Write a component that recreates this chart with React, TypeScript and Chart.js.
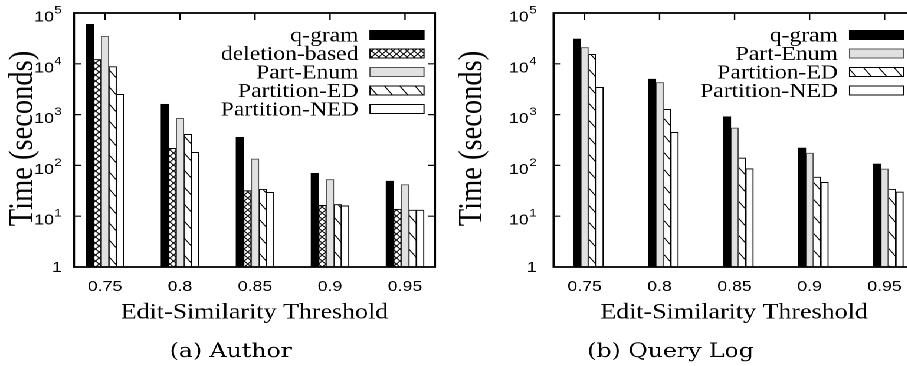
import React, { useEffect, useRef } from "react";
import { Chart, registerables } from "chart.js";

Chart.register(...registerables);

// horizontal stretch of the reference picture
const S = 1.18;

const thresholds = [0.75, 0.8, 0.85, 0.9, 0.95];
const thresholdLabels = ["0.75", "0.8", "0.85", "0.9", "0.95"];
const decadeValues = [1, 10, 100, 1000, 10000, 100000];
const decadeExponents = ["", "1", "2", "3", "4", "5"];

// (a) Author
const authorNames = ["q-gram", "deletion-based", "Part-Enum", "Partition-ED", "Partition-NED"];
const authorQgram = [60000, 1600, 357, 70, 49];
const authorDeletion = [12200, 217, 32, 16.4, 13.7];
const authorPartEnum = [35000, 845, 134, 53, 42];
const authorPartitionED = [8800, 410, 34, 17, 13.2];
const authorPartitionNED = [2500, 181, 29.5, 16, 13.2];

// (b) Query Log
const queryNames = ["q-gram", "Part-Enum", "Partition-ED", "Partition-NED"];
const queryQgram = [30800, 5000, 910, 220, 107];
const queryPartEnum = [21000, 4300, 545, 175, 85];
const queryPartitionED = [15400, 1270, 140, 59, 34];
const queryPartitionNED = [3440, 448, 86, 46.5, 30];

const xTitle = "Edit-Similarity Threshold";
const yTitle = "Time (seconds)";

function makePattern(kind: "cross" | "diag"): CanvasPattern | string {
  const R = 4;
  const w = kind === "cross" ? 6 : 13;
  const h = kind === "cross" ? 6 : 17;
  const c = document.createElement("canvas");
  c.width = w * R;
  c.height = h * R;
  const g = c.getContext("2d");
  if (!g) return "#fff";
  g.scale(R, R);
  g.fillStyle = "#fff";
  g.fillRect(0, 0, w, h);
  g.strokeStyle = "#000";
  g.lineWidth = 0.9;
  g.beginPath();
  for (const dx of [-w, 0, w]) {
    g.moveTo(dx, 0);
    g.lineTo(dx + w, h);
    if (kind === "cross") {
      g.moveTo(dx + w, 0);
      g.lineTo(dx, h);
    }
  }
  g.stroke();
  const p = g.createPattern(c, "repeat");
  if (!p) return "#fff";
  p.setTransform(new DOMMatrix().scale(1 / R, 1 / R));
  return p;
}

function fillFor(name: string): CanvasPattern | string {
  if (name === "q-gram") return "#000";
  if (name === "deletion-based") return makePattern("cross");
  if (name === "Part-Enum") return "#e1e1e1";
  if (name === "Partition-ED") return makePattern("diag");
  return "#fff";
}
function borderFor(name: string): string {
  if (name === "Part-Enum") return "#555";
  return "#000";
}

interface PanelSpec {
  names: string[];
  series: number[][];
  caption: string;
  width: number;
  plotLeft: number;
  rightPad: number;
  barThickness: number;
  leadingEmptySlot: boolean;
  yLabelRight: number;
  yTitleX: number;
  legendTextRight: number;
  legendBoxLeft: number;
  legendBoxWidth: number;
  captionX: number;
}

const legendRows = [35, 53.5, 72, 90.5, 109];

function decorPlugin(spec: PanelSpec) {
  return {
    id: "panelDecor",
    beforeDatasetsDraw(chart: any) {
      const { ctx, chartArea: a, scales } = chart;
      ctx.save();
      ctx.strokeStyle = "#000";
      ctx.lineWidth = 1.2;
      ctx.beginPath();
      for (const v of decadeValues.slice(1, -1)) {
        const y = scales.y.getPixelForValue(v);
        ctx.moveTo(a.left, y);
        ctx.lineTo(a.left + 6, y);
        ctx.moveTo(a.right, y);
        ctx.lineTo(a.right - 6, y);
      }
      for (const v of thresholds) {
        const x = scales.x.getPixelForValue(v);
        ctx.moveTo(x, a.top);
        ctx.lineTo(x, a.top + 7);
        ctx.moveTo(x, a.bottom);
        ctx.lineTo(x, a.bottom - 7);
      }
      ctx.stroke();
      ctx.restore();
    },
    afterDatasetsDraw(chart: any) {
      const { ctx, chartArea: a } = chart;
      ctx.save();
      ctx.strokeStyle = "#000";
      ctx.lineWidth = 1.8;
      ctx.strokeRect(a.left, a.top, a.right - a.left, a.bottom - a.top);
      ctx.restore();
    },
    afterDraw(chart: any) {
      const { ctx, scales } = chart;
      ctx.save();
      ctx.fillStyle = "#000";
      // y tick labels with superscript exponents
      decadeValues.forEach((v, i) => {
        const y = scales.y.getPixelForValue(v);
        const exp = decadeExponents[i];
        if (!exp) {
          ctx.font = '15px "Liberation Sans"';
          ctx.textAlign = "right";
          ctx.textBaseline = "alphabetic";
          ctx.fillText("1", spec.yLabelRight, y + 5.2);
        } else {
          ctx.font = '11px "Liberation Sans"';
          ctx.textAlign = "right";
          ctx.textBaseline = "alphabetic";
          ctx.fillText(exp, spec.yLabelRight, y + 0.5);
          const ew = ctx.measureText(exp).width;
          ctx.font = '15px "Liberation Sans"';
          ctx.fillText("10", spec.yLabelRight - ew - 0.5, y + 8.5);
        }
      });
      // y title
      ctx.save();
      ctx.translate(spec.yTitleX, 138.5);
      ctx.rotate(-Math.PI / 2);
      ctx.font = '28.5px "Liberation Serif"';
      ctx.textAlign = "center";
      ctx.textBaseline = "middle";
      ctx.fillText(yTitle, 0, 0);
      ctx.restore();
      // legend
      let row = 0;
      chart.data.datasets.forEach((ds: any) => {
        if (!ds.label) return;
        const cy = legendRows[row++];
        ctx.font = '20px "Liberation Serif"';
        ctx.textAlign = "right";
        ctx.textBaseline = "alphabetic";
        ctx.fillStyle = "#000";
        ctx.fillText(ds.label, spec.legendTextRight, cy + 6.5);
        ctx.fillStyle = ds.backgroundColor;
        ctx.fillRect(spec.legendBoxLeft, cy - 4.5, spec.legendBoxWidth, 9);
        ctx.strokeStyle = ds.borderColor;
        ctx.lineWidth = 1;
        ctx.strokeRect(spec.legendBoxLeft, cy - 4.5, spec.legendBoxWidth, 9);
      });
      // caption
      ctx.fillStyle = "#000";
      ctx.font = '20px "DejaVu Serif"';
      ctx.textAlign = "center";
      ctx.textBaseline = "alphabetic";
      ctx.fillText(spec.caption, spec.captionX, 357);
      ctx.restore();
    },
  };
}

function buildChart(canvas: HTMLCanvasElement, spec: PanelSpec): Chart {
  const datasets: any[] = [];
  if (spec.leadingEmptySlot) {
    datasets.push({
      label: "",
      data: thresholds.map((x) => ({ x, y: null })),
      backgroundColor: "rgba(0,0,0,0)",
      borderWidth: 0,
      barThickness: spec.barThickness,
    });
  }
  spec.names.forEach((name, i) => {
    datasets.push({
      label: name,
      data: thresholds.map((x, j) => ({ x, y: spec.series[i][j] })),
      backgroundColor: fillFor(name),
      borderColor: borderFor(name),
      borderWidth: 1,
      barThickness: spec.barThickness,
    });
  });
  return new Chart(canvas, {
    type: "bar",
    data: { datasets },
    options: {
      animation: false,
      responsive: false,
      devicePixelRatio: 2,
      layout: { padding: { left: 0, right: spec.rightPad, top: 13, bottom: 0 } },
      plugins: {
        legend: { display: false },
        tooltip: { enabled: false },
        title: { display: false },
      },
      scales: {
        x: {
          type: "linear",
          min: 0.72933,
          max: 0.97,
          offset: false,
          grid: { display: false, drawTicks: false },
          border: { display: false },
          afterBuildTicks: (s: any) => {
            s.ticks = thresholds.map((v) => ({ value: v }));
          },
          afterFit: (s: any) => {
            s.height = 366 - 267;
          },
          ticks: {
            autoSkip: false,
            maxRotation: 0,
            padding: 11,
            color: "#000",
            font: { family: "Liberation Sans", size: 15 },
            callback: (_v: any, i: number) => thresholdLabels[i],
          },
          title: {
            display: true,
            text: xTitle,
            color: "#000",
            font: { family: "Liberation Serif", size: 22 },
            padding: { top: 0, bottom: 40 },
          },
        },
        y: {
          type: "logarithmic",
          min: 1,
          max: 100000,
          grid: { display: false, drawTicks: false },
          border: { display: false },
          ticks: { display: false },
          afterBuildTicks: (s: any) => {
            s.ticks = decadeValues.map((v) => ({ value: v }));
          },
          afterFit: (s: any) => {
            s.width = spec.plotLeft;
          },
        },
      },
    } as any,
    plugins: [decorPlugin(spec) as any],
  });
}

const specA: PanelSpec = {
  names: authorNames,
  series: [authorQgram, authorDeletion, authorPartEnum, authorPartitionED, authorPartitionNED],
  caption: "(a) Author",
  width: 381,
  plotLeft: 74 / S,
  rightPad: 381 - 435 / S,
  barThickness: 7.6 / S,
  leadingEmptySlot: false,
  yLabelRight: 61.7 / S,
  yTitleX: 23 / S,
  legendTextRight: 358.5 / S,
  legendBoxLeft: 370 / S,
  legendBoxWidth: 54 / S,
  captionX: 230.8 / S,
};

const specB: PanelSpec = {
  names: queryNames,
  series: [queryQgram, queryPartEnum, queryPartitionED, queryPartitionNED],
  caption: "(b) Query Log",
  width: 404,
  plotLeft: 104 / S,
  rightPad: 404 - 465 / S,
  barThickness: 7.5 / S,
  leadingEmptySlot: true,
  yLabelRight: 87 / S,
  yTitleX: 23 / S,
  legendTextRight: 388.3 / S,
  legendBoxLeft: 400 / S,
  legendBoxWidth: 54 / S,
  captionX: 221 / S,
};

function Panel({ spec, left }: { spec: PanelSpec; left: number }) {
  const ref = useRef<HTMLCanvasElement | null>(null);
  useEffect(() => {
    if (!ref.current) return;
    const chart = buildChart(ref.current, spec);
    return () => chart.destroy();
  }, [spec]);
  return (
    <canvas
      ref={ref}
      width={spec.width}
      height={366}
      style={{ position: "absolute", left, top: 0 }}
    />
  );
}

export default function App() {
  return (
    <div
      style={{
        position: "fixed",
        left: 0,
        top: 0,
        width: 907,
        height: 366,
        overflow: "hidden",
        background: "#fff",
      }}
    >
      <div
        style={{
          position: "absolute",
          left: 0,
          top: 0,
          width: 1000 / S,
          height: 366,
          transform: `scaleX(${S})`,
          transformOrigin: "0 0",
        }}
      >
        <Panel spec={specA} left={0} />
        <Panel spec={specB} left={450 / S} />
      </div>
    </div>
  );
}
